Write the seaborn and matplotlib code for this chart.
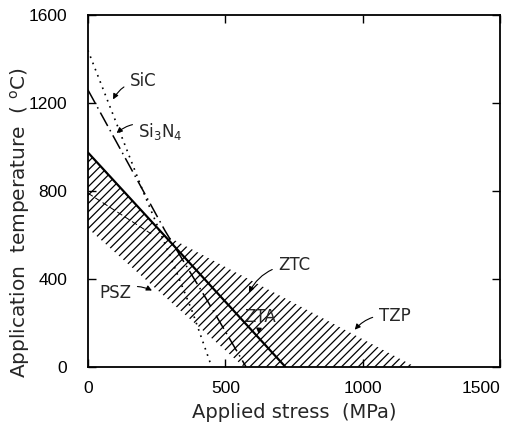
import matplotlib
matplotlib.use("Agg")
import matplotlib.pyplot as plt
import seaborn as sns
import pandas as pd

sns.set_theme(style="ticks")
plt.rcParams['font.family'] = ['DejaVu Sans']
plt.rcParams['mathtext.fontset'] = 'dejavusans'
plt.rcParams['hatch.linewidth'] = 0.9

# Data (applied stress MPa, temperature °C)
sic_stress = [0, 100, 200, 300, 380, 450]
sic_temp = [1440, 1120, 800, 500, 250, 0]

si3n4_stress = [0, 140, 280, 430, 575]
si3n4_temp = [1260, 940, 620, 310, 0]

zta_stress = [0, 718]
zta_temp = [975, 0]

# hatched zirconia region boundary
zr_stress = [0, 274, 1190, 567, 0]
zr_temp = [975, 603, 0, 0, 630]

psz_inner_stress = [0, 230]
psz_inner_temp = [790, 605]

xticks = [0, 500, 1000, 1500]
yticks = [0, 400, 800, 1200, 1600]

fig = plt.figure(figsize=(5.08, 4.30), dpi=100)
ax = fig.add_axes([0.173, 0.147, 0.812, 0.818])

ax.fill(zr_stress, zr_temp, facecolor='none', edgecolor='black', linewidth=0, hatch='////')

sns.lineplot(x=sic_stress, y=sic_temp, ax=ax, color='black', lw=1.2,
             linestyle=(0, (1, 3)), sort=False)
sns.lineplot(x=si3n4_stress, y=si3n4_temp, ax=ax, color='black', lw=1.1,
             linestyle=(0, (10, 3, 1, 3)), sort=False)
sns.lineplot(x=zta_stress, y=zta_temp, ax=ax, color='black', lw=1.6, sort=False)
sns.lineplot(x=psz_inner_stress, y=psz_inner_temp, ax=ax, color='black', lw=0.7,
             linestyle=(0, (6, 3)), sort=False)

ax.set_xlim(0, 1500)
ax.set_ylim(0, 1600)
ax.set_xticks(xticks)
ax.set_yticks(yticks)
ax.tick_params(direction='in', length=6, width=1.0, top=True, right=True,
               labelsize=12.5, colors='black')
ax.tick_params(axis='y', pad=15)
ax.tick_params(axis='x', pad=10)
narrow = ['DejaVu Sans Condensed', 'Liberation Sans']
for lab in ax.get_xticklabels() + ax.get_yticklabels():
    lab.set_family(narrow)
ax.get_xticklabels()[-1].set_horizontalalignment('right')
for s in ax.spines.values():
    s.set_linewidth(1.3)
    s.set_color('black')

ax.set_xlabel("Applied stress  (MPa)", fontsize=14, labelpad=5)
ax.set_ylabel("Application  temperature  ( $^{\\rm o}$C)", fontsize=14.5)
ax.yaxis.set_label_coords(-0.135, 0.41)

arrow = dict(arrowstyle='-|>', color='black', lw=0.8, mutation_scale=8,
             connectionstyle='arc3,rad=0.3')
ax.annotate("SiC", xy=(87, 1205), xytext=(200, 1300), fontsize=12,
            ha='center', va='center', arrowprops=arrow)
ax.annotate("Si$_3$N$_4$", xy=(97, 1055), xytext=(265, 1070), fontsize=12,
            ha='center', va='center', arrowprops=dict(arrowstyle='-|>', color='black', lw=0.8,
                                                       mutation_scale=8, connectionstyle='arc3,rad=0.4'))
ax.annotate("PSZ", xy=(242, 341), xytext=(100, 336), fontsize=12,
            ha='center', va='center', arrowprops=dict(arrowstyle='-|>', color='black', lw=0.8,
                                                      mutation_scale=8, connectionstyle='arc3,rad=-0.3'))
ax.annotate("ZTC", xy=(581, 327), xytext=(750, 465), fontsize=12,
            ha='center', va='center', arrowprops=arrow)
ax.annotate("ZTA", xy=(621, 150), xytext=(625, 228), fontsize=12,
            ha='center', va='center', arrowprops=dict(arrowstyle='-|>', color='black', lw=0.8,
                                                      mutation_scale=8))
ax.annotate("TZP", xy=(964, 159), xytext=(1115, 230), fontsize=12,
            ha='center', va='center', arrowprops=arrow)

fig.savefig("out.png", dpi=100, facecolor='white')
